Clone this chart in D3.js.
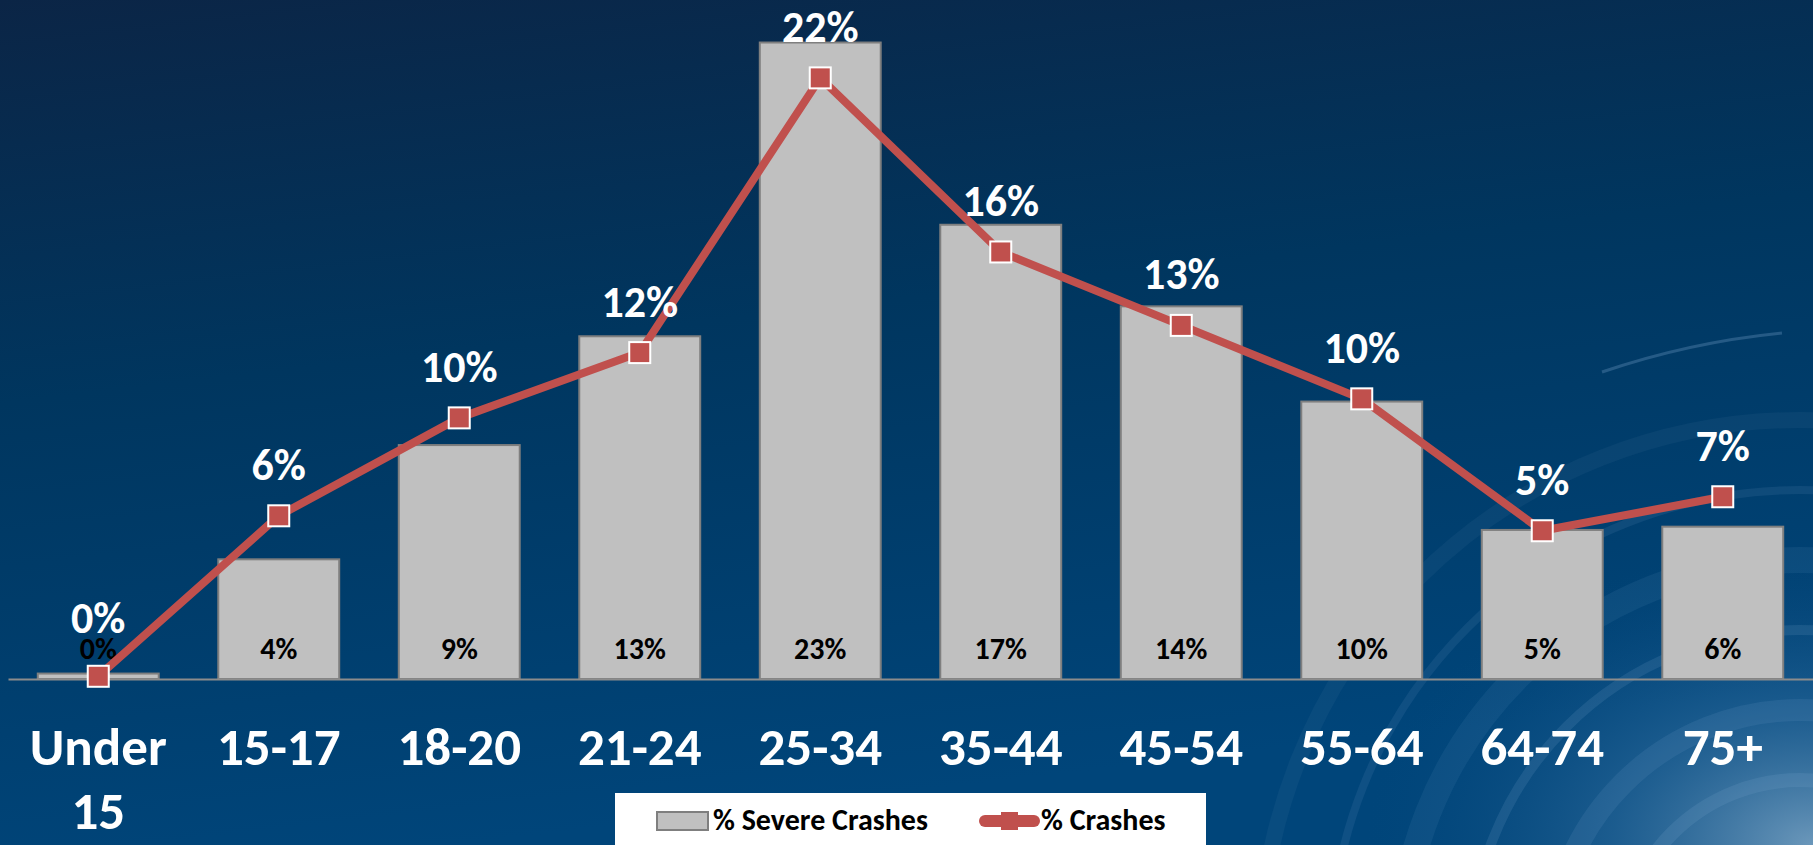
<!DOCTYPE html>
<html>
<head>
<meta charset="utf-8">
<script src="https://cdn.jsdelivr.net/npm/d3@7"></script>
<style>
  html, body { margin: 0; padding: 0; background: #00355f; overflow: hidden; }
  svg { display: block; }
  text { font-family: Carlito, Calibri, Lato, "Noto Sans", sans-serif; font-weight: 700; }
</style>
</head>
<body>
<svg id="chart" width="1813" height="845"></svg>
<script>
const categories = ["Under 15", "15-17", "18-20", "21-24", "25-34", "35-44", "45-54", "55-64", "64-74", "75+"];
const severeCrashes = [0.2, 4.4, 8.6, 12.6, 23.4, 16.7, 13.7, 10.2, 5.48, 5.6];
const allCrashes = [0.1, 6.0, 9.6, 12.0, 22.1, 15.7, 13.0, 10.3, 5.45, 6.7];
const seriesNames = ["% Severe Crashes", "% Crashes"];

const W = 1813, H = 845;
const svg = d3.select("#chart");

// background
const defs = svg.append("defs");
const lg = defs.append("linearGradient").attr("id", "bg").attr("x1", 0).attr("y1", 0).attr("x2", 0.25).attr("y2", 1);
lg.append("stop").attr("offset", "0%").attr("stop-color", "#0b2546");
lg.append("stop").attr("offset", "45%").attr("stop-color", "#00365f");
lg.append("stop").attr("offset", "100%").attr("stop-color", "#00457a");
svg.append("rect").attr("width", W).attr("height", H).attr("fill", "url(#bg)");
const rg = defs.append("radialGradient").attr("id", "glow").attr("cx", 1).attr("cy", 1).attr("r", 0.55);
rg.append("stop").attr("offset", "0%").attr("stop-color", "#8fb3d0").attr("stop-opacity", 0.75);
rg.append("stop").attr("offset", "45%").attr("stop-color", "#3d78a8").attr("stop-opacity", 0.45);
rg.append("stop").attr("offset", "100%").attr("stop-color", "#0a4b80").attr("stop-opacity", 0);
svg.append("rect").attr("x", 1000).attr("y", 300).attr("width", 813).attr("height", 545).attr("fill", "url(#glow)");
// decorative arcs
const deco = svg.append("g").attr("fill", "none").attr("stroke", "#7aa6cc");
[[180, 14, 0.18], [250, 22, 0.14], [330, 10, 0.16], [400, 26, 0.10], [470, 8, 0.12], [540, 16, 0.07]].forEach(([r, w, o]) => {
  deco.append("circle").attr("cx", 1800).attr("cy", 960).attr("r", r).attr("stroke-width", w).attr("stroke-opacity", o);
});
deco.append("path").attr("d", "M1602,372 Q1690,342 1782,333").attr("stroke-width", 3).attr("stroke-opacity", 0.3);

// scales
const x = d3.scaleBand().domain(categories).range([8, W]).paddingInner(0.33).paddingOuter(0.165);
const y = d3.scaleLinear().domain([0, 25]).range([679, 679 - 25 * 27.2]);

// bars
svg.append("g").selectAll("rect").data(categories).join("rect")
  .attr("x", d => x(d))
  .attr("y", (d, i) => y(severeCrashes[i]))
  .attr("width", x.bandwidth())
  .attr("height", (d, i) => y(0) - y(severeCrashes[i]))
  .attr("fill", "#c0c0c0")
  .attr("stroke", "#7f7f7f")
  .attr("stroke-width", 2);

// axis
const axis = svg.append("g").attr("transform", `translate(0,${y(0)})`)
  .call(d3.axisBottom(x).tickSize(0).tickPadding(0));
axis.select(".domain").attr("stroke", "#8c8c8c").attr("stroke-width", 2);
axis.selectAll(".tick text").each(function(d) {
  const t = d3.select(this);
  t.text(null).attr("y", 0).attr("dy", null)
    .attr("fill", "#ffffff").attr("font-size", 53).attr("font-weight", 700)
    .attr("font-family", "Carlito, Calibri, Lato, sans-serif");
  const words = d.split(" ");
  words.forEach((w, k) => t.append("tspan").attr("x", 0).attr("y", 86 + k * 64).text(w));
});

// bar value labels (inside base)
svg.append("g").selectAll("text").data(categories).join("text")
  .attr("x", d => x(d) + x.bandwidth() / 2)
  .attr("y", y(0) - 20)
  .attr("text-anchor", "middle")
  .attr("font-size", 30)
  .attr("fill", "#000")
  .text((d, i) => Math.round(severeCrashes[i]) + "%");

// line
const cx = d => x(d) + x.bandwidth() / 2;
svg.append("path")
  .datum(categories)
  .attr("fill", "none")
  .attr("stroke", "#c0504d")
  .attr("stroke-width", 8)
  .attr("stroke-linejoin", "round")
  .attr("d", d3.line().x(d => cx(d)).y((d, i) => y(allCrashes[i])));

const ms = 21;
svg.append("g").selectAll("rect").data(categories).join("rect")
  .attr("x", d => cx(d) - ms / 2)
  .attr("y", (d, i) => y(allCrashes[i]) - ms / 2)
  .attr("width", ms).attr("height", ms)
  .attr("fill", "#c0504d")
  .attr("stroke", "#ffffff")
  .attr("stroke-width", 2);

svg.append("g").selectAll("text").data(categories).join("text")
  .attr("x", d => cx(d))
  .attr("y", (d, i) => Math.min(y(allCrashes[i]) - 36, y(0) - 46))
  .attr("text-anchor", "middle")
  .attr("font-size", 44)
  .attr("fill", "#ffffff")
  .text((d, i) => Math.round(allCrashes[i]) + "%");

// legend
const leg = svg.append("g");
leg.append("rect").attr("x", 615).attr("y", 793).attr("width", 591).attr("height", 60).attr("fill", "#ffffff");
leg.append("rect").attr("x", 657).attr("y", 812).attr("width", 51).attr("height", 18)
  .attr("fill", "#c0c0c0").attr("stroke", "#7f7f7f").attr("stroke-width", 2);
leg.append("text").attr("x", 713).attr("y", 830).attr("font-size", 30).attr("fill", "#000").text(seriesNames[0]);
leg.append("line").attr("x1", 985).attr("x2", 1034).attr("y1", 821).attr("y2", 821)
  .attr("stroke", "#c0504d").attr("stroke-width", 12).attr("stroke-linecap", "round");
leg.append("rect").attr("x", 1001).attr("y", 812).attr("width", 17).attr("height", 18).attr("fill", "#c0504d");
leg.append("text").attr("x", 1041).attr("y", 830).attr("font-size", 30).attr("fill", "#000").text(seriesNames[1]);
</script>
</body>
</html>
